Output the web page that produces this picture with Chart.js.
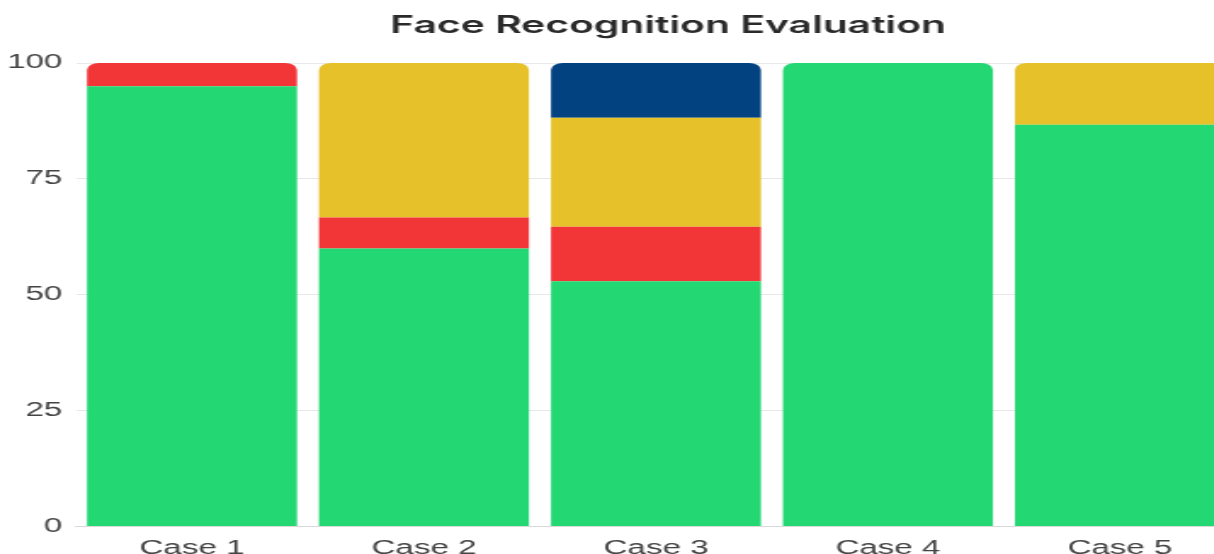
<!DOCTYPE html>
<html>
<head>
<meta charset="utf-8">
<title>Face Recognition Evaluation</title>
<script src="https://cdn.jsdelivr.net/npm/chart.js@4.4.1/dist/chart.umd.min.js"></script>
<style>
  html, body { margin: 0; padding: 0; background: #ffffff; overflow: hidden; }
  #frame { width: 1214px; height: 554px; overflow: hidden; position: relative; }
  #stage { position: absolute; left: 0; top: 0; width: 786px; height: 570px;
           transform: scaleX(1.7); transform-origin: 0 0; }
</style>
</head>
<body>
<div id="frame">
  <div id="stage"><canvas id="chart" width="786" height="570"></canvas></div>
</div>
<script>
// Test cases and the share (%) of each outcome per case
const categories = ['Case 1', 'Case 2', 'Case 3', 'Case 4', 'Case 5'];
const recognized    = [95, 60, 52.9, 100, 86.7];
const misidentified = [5, 6.7, 11.8, 0, 0];
const uncertain     = [0, 33.3, 23.5, 0, 13.3];
const noFace        = [0, 0, 11.8, 0, 0];
const yTicks = [0, 25, 50, 75, 100];

const seriesList = [
  { label: 'Recognized', data: recognized, color: '#23d773' },
  { label: 'Misidentified', data: misidentified, color: '#f23537' },
  { label: 'Uncertain', data: uncertain, color: '#e6c129' },
  { label: 'No Face', data: noFace, color: '#024280' }
];

// Round only the top of the highest non-empty segment of each stack
function topRadius(ctx) {
  const i = ctx.dataIndex;
  const d = ctx.datasetIndex;
  for (let k = d + 1; k < seriesList.length; k++) {
    if (seriesList[k].data[i] > 0) return 0;
  }
  return { topLeft: 7, topRight: 7, bottomLeft: 0, bottomRight: 0 };
}

const datasets = seriesList.map(s => ({
  label: s.label,
  data: s.data,
  backgroundColor: s.color,
  borderWidth: 0,
  borderSkipped: 'start',
  borderRadius: topRadius,
  categoryPercentage: 1.0,
  barPercentage: 0.905
}));

const tickFont = { family: 'Liberation Sans', size: 19.5 };

new Chart(document.getElementById('chart'), {
  type: 'bar',
  data: { labels: categories, datasets },
  options: {
    responsive: false,
    animation: false,
    devicePixelRatio: 1,
    layout: { padding: 0 },
    plugins: {
      legend: { display: false },
      tooltip: { enabled: false },
      title: {
        display: true,
        text: 'Face Recognition Evaluation',
        color: '#2a2a2a',
        font: { family: 'Inter', size: 24, weight: '600' },
        padding: { top: 11.6, bottom: 22.6 }
      }
    },
    scales: {
      x: {
        stacked: true,
        grid: { display: false, drawTicks: false },
        border: { display: true, color: '#d9d9d9' },
        ticks: { color: '#444444', padding: 10, font: tickFont }
      },
      y: {
        stacked: true,
        min: 0,
        max: 100,
        afterBuildTicks: axis => { axis.ticks = yTicks.map(v => ({ value: v })); },
        afterFit: axis => { axis.width = 44.7; },
        grid: { color: '#e8e8e8', drawTicks: false },
        border: { display: false },
        ticks: { color: '#444444', padding: 8, font: tickFont }
      },
      // empty right-hand gutter
      gutter: {
        position: 'right',
        afterFit: axis => { axis.width = 59; },
        grid: { display: false, drawTicks: false },
        border: { display: false },
        ticks: { display: false }
      }
    }
  }
});
</script>
</body>
</html>
